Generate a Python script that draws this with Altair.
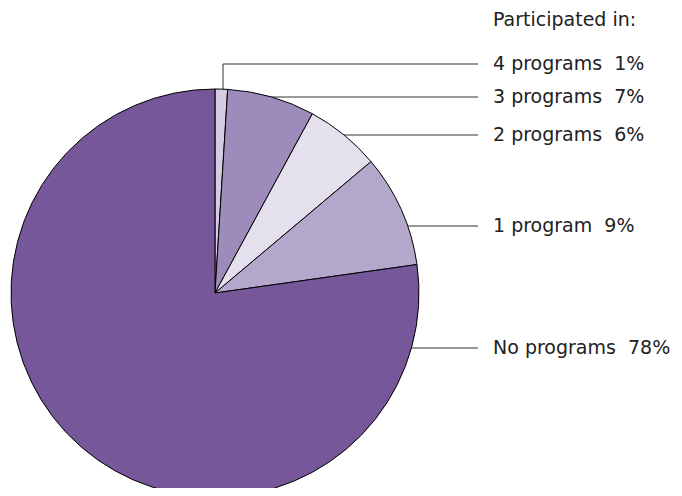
import altair as alt
import pandas as pd

# ---- data ----
categories = ["4 programs", "3 programs", "2 programs", "1 program", "No programs"]
percents = [1, 7, 6, 9, 78]
colors = ["#d5cce3", "#9d8bbb", "#e5e0ee", "#b4a7cc", "#76579a"]
legend_title = "Participated in:"

# ---- layout (chart pixel coordinates) ----
CX, CY, R = 207, 285, 204
label_y = [56, 89, 127, 218, 340]
line_start_x = [215, CX, CX, CX, CX]
LINE_END = 470
LABEL_X = 485
TITLE_Y = 12
FONT = "DejaVu Sans"
FS = 19

pie_df = pd.DataFrame({"category": categories, "percent": percents, "order": list(range(len(categories)))})
lab_df = pd.DataFrame({
    "label": [f"{c}\u00a0\u00a0{p}%" for c, p in zip(categories, percents)],
    "y": label_y,
    "x0": line_start_x,
})
title_df = pd.DataFrame({"t": [legend_title], "y": [TITLE_Y]})

lines = alt.Chart(lab_df).mark_rule(color="#333333", strokeWidth=1).encode(
    x=alt.X("x0:Q", scale=None),
    x2=alt.value(LINE_END),
    y=alt.Y("y:Q", scale=None),
)

vline = alt.Chart(lab_df.iloc[[0]]).mark_rule(color="#333333", strokeWidth=1).encode(
    x=alt.X("x0:Q", scale=None),
    y=alt.Y("y:Q", scale=None),
    y2=alt.value(CY),
)

pie = alt.Chart(pie_df).mark_arc(stroke="black", strokeWidth=1, radius=R).encode(
    theta=alt.Theta("percent:Q", stack=True),
    color=alt.Color("category:N", scale=alt.Scale(domain=categories, range=colors), legend=None),
    order=alt.Order("order:Q"),
    x=alt.value(CX),
    y=alt.value(CY),
)

labels = alt.Chart(lab_df).mark_text(
    align="left", baseline="middle", font=FONT, fontSize=FS, color="#222222"
).encode(
    x=alt.value(LABEL_X),
    y=alt.Y("y:Q", scale=None),
    text="label:N",
)

title = alt.Chart(title_df).mark_text(
    align="left", baseline="middle", font=FONT, fontSize=FS, color="#222222"
).encode(
    x=alt.value(LABEL_X),
    y=alt.Y("y:Q", scale=None),
    text="t:N",
)

chart = alt.layer(lines, vline, pie, labels, title).properties(
    width=666, height=480, padding=0, autosize=alt.AutoSizeParams(type="none")
).configure_view(stroke=None)

chart.save("out.html", embed_options={"renderer": "svg", "actions": False})
